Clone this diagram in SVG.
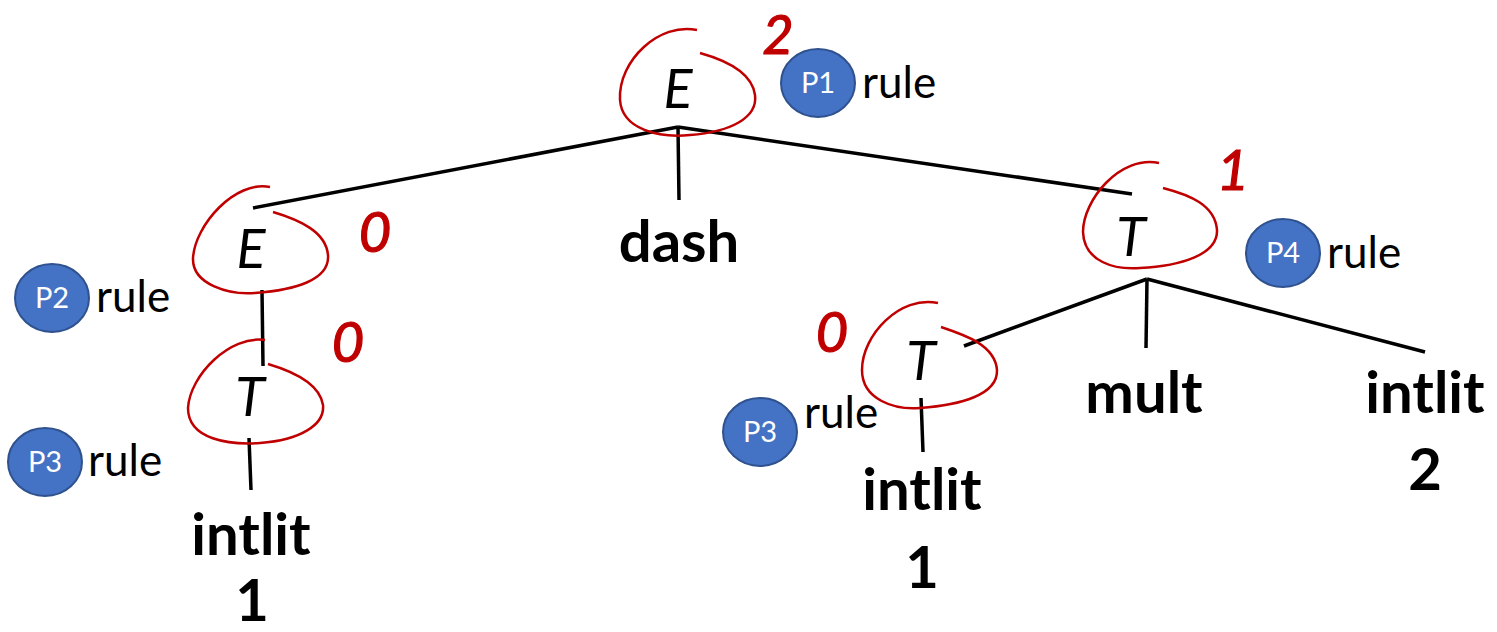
<svg xmlns="http://www.w3.org/2000/svg" width="1497" height="632" viewBox="0 0 1497 632">
  <style>
    .edge { stroke: #000; stroke-width: 3.5; fill: none; stroke-linecap: butt; }
    .loop { stroke: #c00000; stroke-width: 2.5; fill: none; }
    .nt { font-family: Lato, "Liberation Sans", sans-serif; font-style: italic; font-size: 54px; fill: #000; text-anchor: middle; }
    .tok { font-family: Lato, "Liberation Sans", sans-serif; font-weight: bold; font-size: 58px; fill: #000; text-anchor: middle; }
    .rule { font-family: Lato, "Liberation Sans", sans-serif; font-size: 44px; fill: #000; }
    .badge { fill: #4472c4; stroke: #2f528f; stroke-width: 2; }
    .badge-t { font-family: Lato, "Liberation Sans", sans-serif; font-size: 29px; fill: #fff; text-anchor: middle; }
    .num { font-family: Lato, "Liberation Sans", sans-serif; font-style: italic; font-size: 56px; fill: #c00000; stroke: #c00000; stroke-width: 1.2; text-anchor: middle; }
  </style>

  <!-- tree edges -->
  <g id="connectors">
    <line class="edge" x1="678" y1="127" x2="253" y2="208"/>
    <line class="edge" x1="678" y1="127" x2="679" y2="200"/>
    <line class="edge" x1="678" y1="127" x2="1132" y2="194"/>
    <line class="edge" x1="262" y1="290" x2="263" y2="366"/>
    <line class="edge" x1="249" y1="438" x2="251" y2="490"/>
    <line class="edge" x1="1147" y1="279" x2="964" y2="346"/>
    <line class="edge" x1="1147" y1="279" x2="1146" y2="348"/>
    <line class="edge" x1="1147" y1="279" x2="1425" y2="352"/>
    <line class="edge" x1="921" y1="398" x2="923" y2="452"/>
  </g>

  <!-- root E -->
  <g id="node-E-root">
    <text class="nt" x="678" y="108">E</text>
    <path class="loop" d="M697,30 C660,22 618,60 620,100 C622,130 660,138 690,135 C730,132 758,118 755,95 C752,72 725,60 700,53"/>
    <text class="num" x="778" y="54" style="font-size:54px">2</text>
  </g>

  <g id="rule-P1">
    <ellipse class="badge" cx="818" cy="83" rx="37" ry="34"/>
    <text class="badge-t" x="818" y="93">P1</text>
    <text class="rule" x="862" y="98">rule</text>
  </g>

  <!-- left E -->
  <g id="node-E-left">
    <text class="nt" x="251" y="268">E</text>
    <path class="loop" d="M270,187 C235,180 195,225 193,258 C192,285 230,295 255,293 C295,290 330,280 328,255 C326,232 300,220 273,212"/>
    <text class="num" x="375" y="252">0</text>
  </g>

  <g id="rule-P2">
    <ellipse class="badge" cx="52" cy="298" rx="37" ry="34"/>
    <text class="badge-t" x="52" y="308">P2</text>
    <text class="rule" x="96" y="312">rule</text>
  </g>

  <!-- left T -->
  <g id="node-T-left">
    <text class="nt" x="250" y="416">T</text>
    <path class="loop" d="M265,340 C230,335 190,375 188,408 C188,440 230,445 260,443 C300,440 325,425 323,405 C320,385 295,372 268,364"/>
    <text class="num" x="348" y="362">0</text>
  </g>

  <g id="rule-P3-left">
    <ellipse class="badge" cx="45" cy="462" rx="37" ry="34"/>
    <text class="badge-t" x="45" y="472">P3</text>
    <text class="rule" x="88" y="476">rule</text>
  </g>

  <g id="leaf-intlit-left">
    <text class="tok" x="251" y="555">intlit</text>
    <text class="tok" x="252" y="621">1</text>
  </g>

  <!-- dash -->
  <g id="leaf-dash">
    <text class="tok" x="679" y="262">dash</text>
  </g>

  <!-- right T -->
  <g id="node-T-right">
    <text class="nt" x="1131" y="256">T</text>
    <path class="loop" d="M1159,163 C1120,155 1083,200 1083,232 C1084,262 1115,270 1140,268 C1180,266 1218,255 1217,230 C1215,205 1190,195 1163,188"/>
    <text class="num" x="1233" y="190">1</text>
  </g>

  <g id="rule-P4">
    <ellipse class="badge" cx="1283" cy="253" rx="37" ry="34"/>
    <text class="badge-t" x="1283" y="263">P4</text>
    <text class="rule" x="1327" y="268">rule</text>
  </g>

  <!-- lower T -->
  <g id="node-T-inner">
    <text class="nt" x="921" y="380">T</text>
    <path class="loop" d="M938,303 C900,295 862,335 862,370 C862,400 895,410 920,408 C960,405 998,395 997,370 C995,345 965,335 941,327"/>
    <text class="num" x="832" y="352">0</text>
  </g>

  <g id="rule-P3-right">
    <ellipse class="badge" cx="760" cy="432" rx="37" ry="34"/>
    <text class="badge-t" x="760" y="442">P3</text>
    <text class="rule" x="804" y="428">rule</text>
  </g>

  <g id="leaf-intlit-mid">
    <text class="tok" x="922" y="510">intlit</text>
    <text class="tok" x="922" y="588">1</text>
  </g>

  <g id="leaf-mult">
    <text class="tok" x="1144" y="413">mult</text>
  </g>

  <g id="leaf-intlit-right">
    <text class="tok" x="1425" y="413">intlit</text>
    <text class="tok" x="1425" y="490">2</text>
  </g>
</svg>
